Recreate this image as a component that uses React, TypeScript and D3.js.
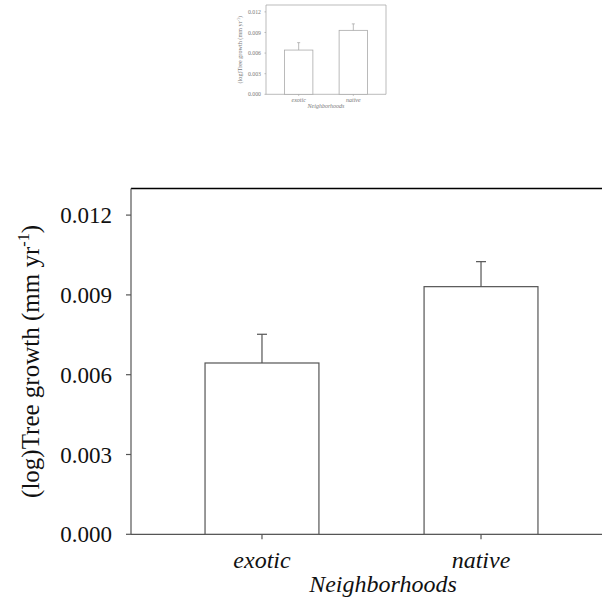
import React from 'react';
import * as d3 from 'd3';

// values
const categories = ['exotic', 'native'];
const means = [0.00644, 0.00931];
const errors = [0.00108, 0.00094];
const yTicks = [0, 0.003, 0.006, 0.009, 0.012];
const yMax = 0.013;

type Layout = {
  left: number;
  right: number;
  top: number;
  bottom: number;
  tickLen: number;
  tickFont: number;
  tickGap: number;
  labelFont: number;
  labelX: number;
  catY: number;
  catFont: number;
  titleY: number;
  titleX: number;
  capW: number;
  axisColor: string;
  topColor: string;
  topWidth: number;
  barColor: string;
  textColor: string;
  strokeW: number;
  rightBorder: boolean;
};

const serif = "'Liberation Serif', Tinos, 'Times New Roman', Times, serif";

const Chart = ({ L }: { L: Layout }) => {
  const x = d3
    .scaleBand()
    .domain(categories)
    .range([L.left, L.right])
    .paddingInner(0.48)
    .paddingOuter(0.338);

  const y = d3.scaleLinear().domain([0, yMax]).range([L.bottom, L.top]);
  const fmt = d3.format('.3f');
  const midY = (L.top + L.bottom) / 2;
  const txt = { fontFamily: serif, fill: L.textColor };

  return (
    <g>
      {/* frame */}
      <line x1={L.left} x2={L.right} y1={L.top} y2={L.top} stroke={L.topColor} strokeWidth={L.topWidth} />
      {L.rightBorder && (
        <line x1={L.right} x2={L.right} y1={L.top} y2={L.bottom} stroke={L.axisColor} strokeWidth={L.strokeW} />
      )}
      <line x1={L.left} x2={L.left} y1={L.top} y2={L.bottom} stroke={L.axisColor} strokeWidth={L.strokeW} />
      <line x1={L.left} x2={L.right} y1={L.bottom} y2={L.bottom} stroke={L.axisColor} strokeWidth={L.strokeW} />

      {/* bars + error bars */}
      {categories.map((c, i) => {
        const bx = x(c) as number;
        const cx = bx + x.bandwidth() / 2;
        const top = y(means[i]);
        const cap = y(means[i] + errors[i]);
        return (
          <g key={c} fill="none" stroke={L.barColor} strokeWidth={L.strokeW}>
            <rect x={bx} y={top} width={x.bandwidth()} height={L.bottom - top} fill="#fff" />
            <line x1={cx} x2={cx} y1={top} y2={cap} />
            <line x1={cx - L.capW / 2} x2={cx + L.capW / 2} y1={cap} y2={cap} />
          </g>
        );
      })}

      {/* y ticks */}
      {yTicks.map((t) => (
        <g key={t}>
          <line x1={L.left - L.tickLen} x2={L.left} y1={y(t)} y2={y(t)} stroke={L.axisColor} strokeWidth={L.strokeW} />
          <text
            x={L.left - L.tickLen - L.tickGap}
            y={y(t)}
            dy="0.35em"
            textAnchor="end"
            fontSize={L.tickFont}
            style={txt}
          >
            {fmt(t)}
          </text>
        </g>
      ))}

      {/* x ticks */}
      {categories.map((c) => {
        const cx = (x(c) as number) + x.bandwidth() / 2;
        return (
          <g key={c}>
            <line x1={cx} x2={cx} y1={L.bottom} y2={L.bottom + L.tickLen} stroke={L.axisColor} strokeWidth={L.strokeW} />
            <text x={cx} y={L.catY} textAnchor="middle" fontSize={L.catFont} fontStyle="italic" style={txt}>
              {c}
            </text>
          </g>
        );
      })}

      <text x={L.titleX} y={L.titleY} textAnchor="middle" fontSize={L.catFont} fontStyle="italic" style={txt}>
        Neighborhoods
      </text>

      <text
        transform={`translate(${L.labelX},${midY}) rotate(-90)`}
        textAnchor="middle"
        fontSize={L.labelFont}
        style={txt}
      >
        (log)Tree growth (mm yr
        <tspan fontSize={L.labelFont * 0.65} dy={-L.labelFont * 0.4}>-1</tspan>
        <tspan dy={L.labelFont * 0.4}>)</tspan>
      </text>
    </g>
  );
};

const big: Layout = {
  left: 131,
  right: 612,
  top: 188.5,
  bottom: 534.3,
  tickLen: 5,
  tickFont: 23,
  tickGap: 14,
  labelFont: 25,
  labelX: 39,
  catY: 568,
  catFont: 24,
  titleY: 592,
  titleX: 383,
  capW: 10,
  axisColor: '#555',
  topColor: '#000',
  topWidth: 1.6,
  barColor: '#555',
  textColor: '#111',
  strokeW: 1.2,
  rightBorder: false,
};

const small: Layout = {
  left: 266,
  right: 386,
  top: 5,
  bottom: 94.3,
  tickLen: 1.5,
  tickFont: 5.8,
  tickGap: 3.5,
  labelFont: 6.2,
  labelX: 242,
  catY: 101.5,
  catFont: 6,
  titleY: 108,
  titleX: 326,
  capW: 3,
  axisColor: '#aaa',
  topColor: '#aaa',
  topWidth: 0.8,
  barColor: '#aaa',
  textColor: '#777',
  strokeW: 0.8,
  rightBorder: true,
};

export default function App() {
  return (
    <svg
      width={602}
      height={602}
      style={{ position: 'absolute', left: 0, top: 0, background: '#fff' }}
    >
      <rect width={602} height={602} fill="#fff" />
      <Chart L={small} />
      <Chart L={big} />
    </svg>
  );
}
